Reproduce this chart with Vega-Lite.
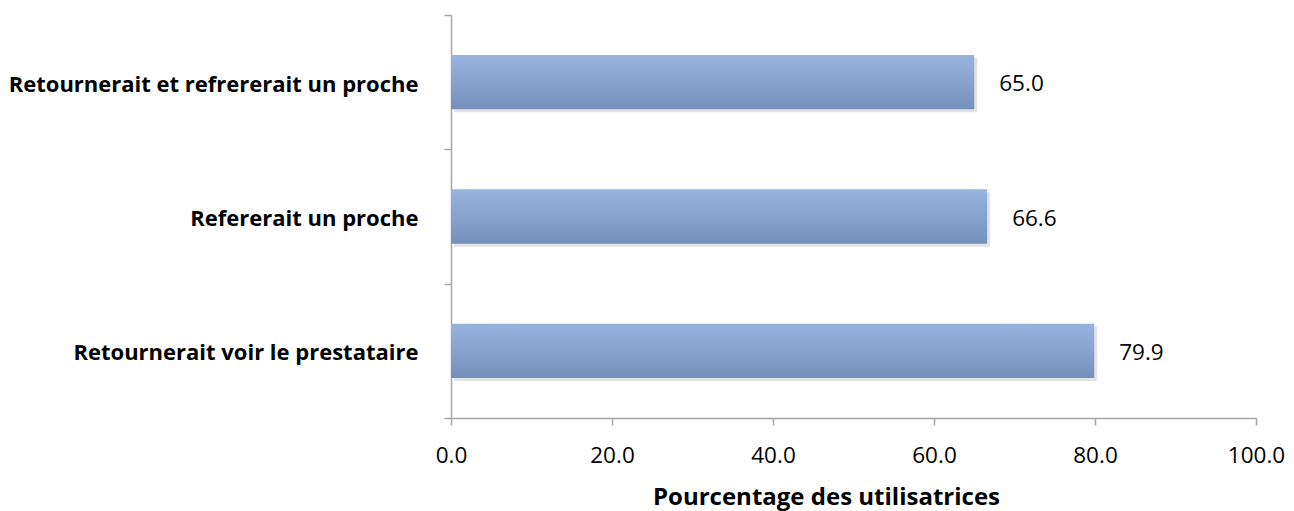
{
  "$schema": "https://vega.github.io/schema/vega-lite/v6.json",
  "autosize": {"type": "none"},
  "width": 805,
  "height": 403,
  "padding": {"left": 451, "top": 15, "right": 38, "bottom": 93},
  "background": "white",
  "data": {"values": [
    {"cat": "Retournerait et refrererait un proche", "val": 65.0},
    {"cat": "Refererait un proche", "val": 66.6},
    {"cat": "Retournerait voir le prestataire", "val": 79.9}
  ]},
  "config": {"view": {"stroke": null}, "font": "Open Sans"},
  "encoding": {
    "y": {"field": "cat", "type": "nominal", "sort": null,
      "scale": {"paddingInner": 0, "paddingOuter": 0},
      "axis": {"title": null, "domainColor": "#A6A6A6", "domainWidth": 1.5, "tickColor": "#A6A6A6", "tickWidth": 1.5, "tickSize": 7, "tickBand": "extent", "labelFont": "Open Sans", "labelFontWeight": "bold", "labelFontSize": 22, "labelColor": "black", "labelPadding": 26, "labelOffset": 2, "labelLimit": 500}},
    "x": {"field": "val", "type": "quantitative",
      "scale": {"domain": [0, 100], "nice": false},
      "axis": {"title": "Pourcentage des utilisatrices", "values": [0, 20, 40, 60, 80, 100], "format": ".1f", "grid": false, "labelFlush": false, "labelOverlap": false, "domainColor": "#A6A6A6", "domainWidth": 1.5, "tickColor": "#A6A6A6", "tickWidth": 1.5, "tickSize": 7, "labelFont": "Open Sans", "labelFontSize": 22.5, "labelColor": "black", "labelPadding": 19, "titleFont": "Open Sans", "titleFontSize": 24, "titleFontWeight": "bold", "titleColor": "black", "titlePadding": 19, "titleX": 375, "titleAlign": "center"}}
  },
  "layer": [
    {"mark": {"type": "bar", "height": {"band": 0.405}, "color": "#c8c8c8", "opacity": 0.5, "xOffset": 3, "yOffset": 3}},
    {"mark": {"type": "bar", "height": {"band": 0.405}, "color": {"gradient": "linear", "x1": 0, "y1": 0, "x2": 0, "y2": 1, "stops": [{"offset": 0, "color": "#97B4DF"}, {"offset": 1, "color": "#7690BC"}]}}},
    {"mark": {"type": "text", "align": "left", "baseline": "middle", "dx": 25, "dy": 2, "font": "Open Sans", "fontSize": 22.5, "color": "black"}, "encoding": {"text": {"field": "val", "type": "quantitative", "format": ".1f"}}}
  ]
}
